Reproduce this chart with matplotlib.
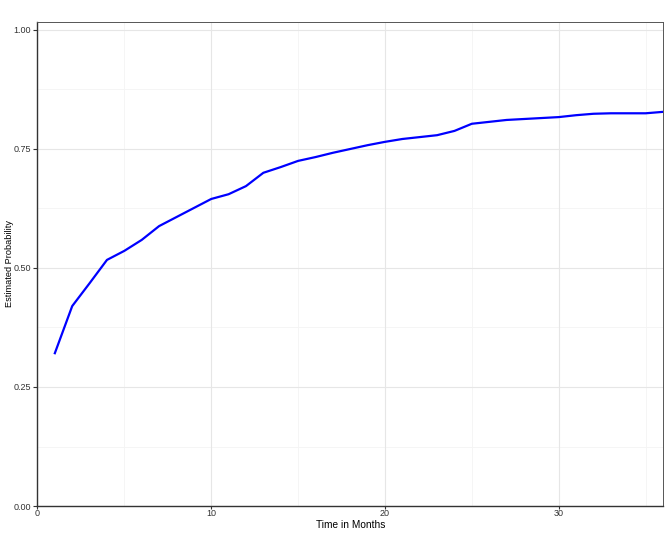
import matplotlib.pyplot as plt
import numpy as np

plt.rcParams['font.family'] = ['Liberation Sans', 'DejaVu Sans']

# -- Data --
months = list(range(1, 37))
prob = [0.321, 0.420, 0.468, 0.517, 0.536, 0.559, 0.588, 0.607, 0.626, 0.645,
        0.655, 0.672, 0.700, 0.712, 0.725, 0.733, 0.742, 0.750, 0.758, 0.765,
        0.771, 0.775, 0.779, 0.788, 0.803, 0.807, 0.811, 0.813, 0.815, 0.817,
        0.821, 0.824, 0.825, 0.825, 0.825, 0.828]
x_ticks = [0, 10, 20, 30]
y_ticks = [0.0, 0.25, 0.5, 0.75, 1.0]
y_labels = ['0.00', '0.25', '0.50', '0.75', '1.00']

fig = plt.figure(figsize=(6.69, 5.35), dpi=100)
ax = fig.add_axes([0.056, 0.0542, 0.935, 0.9047])

# -- Grid --
for v in [5, 15, 25, 35]:
    ax.axvline(v, color='#f4f4f4', lw=0.6, zorder=0)
for v in [0.125, 0.375, 0.625, 0.875]:
    ax.axhline(v, color='#f4f4f4', lw=0.6, zorder=0)
for v in x_ticks:
    ax.axvline(v, color='#e6e6e6', lw=0.8, zorder=0)
for v in y_ticks:
    ax.axhline(v, color='#e6e6e6', lw=0.8, zorder=0)

# -- Line --
ax.plot(months, prob, color='#0000ff', lw=1.6, zorder=3)

ax.set_xlim(0, 36)
ax.set_ylim(0, 1.0168)
ax.set_xticks(x_ticks)
ax.set_yticks(y_ticks)
ax.set_yticklabels(y_labels)
ax.tick_params(labelsize=6.5, colors='#333333', length=3, width=0.8, pad=1.5)
ax.tick_params(axis='x', length=2.5, pad=0)

for side in ['left', 'bottom']:
    ax.spines[side].set_color('#333333')
    ax.spines[side].set_linewidth(1.0)
for side in ['top', 'right']:
    ax.spines[side].set_color('#555555')
    ax.spines[side].set_linewidth(0.7)

ax.set_xlabel('Time in Months', fontsize=7.3)
ax.set_ylabel('Estimated Probability', fontsize=6.6)
ax.xaxis.set_label_coords(0.5, -0.0385)
ax.yaxis.set_label_coords(-0.045, 0.5)
ax.xaxis.label.set_verticalalignment('center')
ax.yaxis.label.set_verticalalignment('center')

fig.savefig('out.png', dpi=100)
